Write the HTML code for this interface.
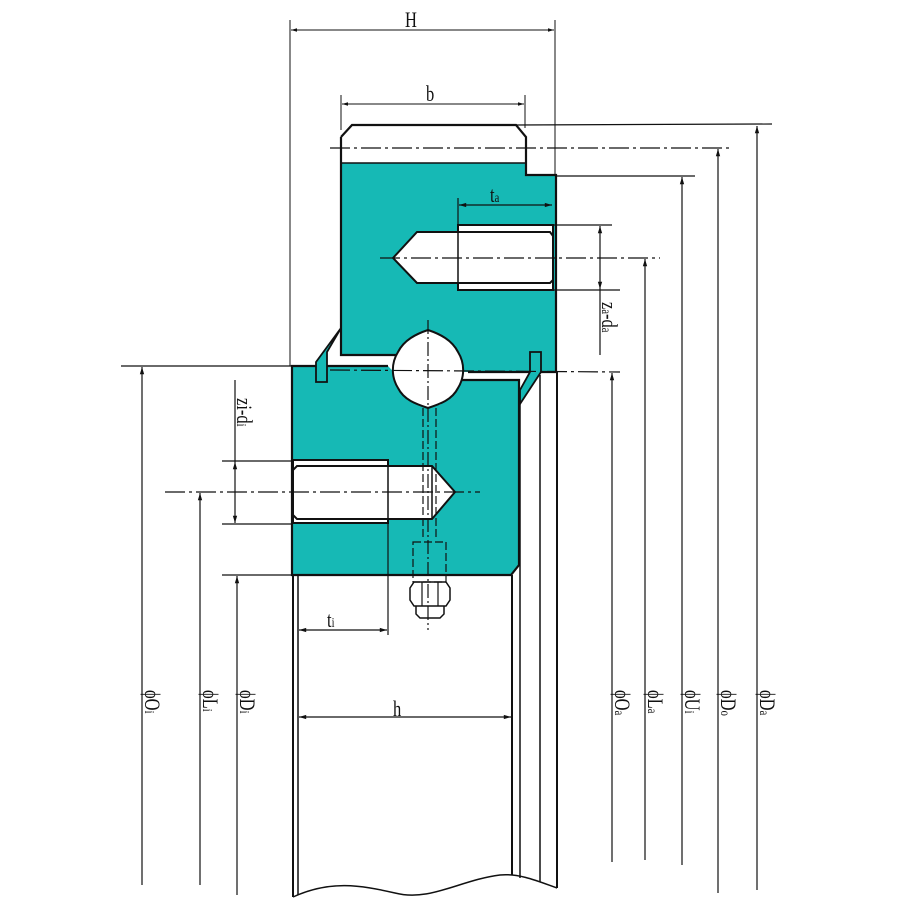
<!DOCTYPE html>
<html><head><meta charset="utf-8"><style>
html,body{margin:0;padding:0;background:#fff;}
svg{display:block}
text{font-family:"Liberation Serif",serif;fill:#111}
</style></head><body>
<svg width="900" height="900" viewBox="0 0 900 900" xmlns="http://www.w3.org/2000/svg">
<defs>
<marker id="a" viewBox="0 0 10 10" refX="10" refY="5" markerWidth="8" markerHeight="6" orient="auto-start-reverse"><path d="M0,2 L10,5 L0,8z" fill="#111"/></marker>
</defs>
<g stroke="#111" stroke-width="1" fill="none">
<line x1="290" y1="20" x2="290" y2="366"/>
<line x1="555" y1="20" x2="555" y2="175"/>
<line x1="291" y1="30" x2="554" y2="30" marker-start="url(#a)" marker-end="url(#a)"/>
<line x1="341" y1="95" x2="341" y2="130"/>
<line x1="525" y1="95" x2="525" y2="128"/>
<line x1="342" y1="104" x2="524" y2="104" marker-start="url(#a)" marker-end="url(#a)"/>
</g>
<path d="M341,163 L526,163 L526,176 L556,176 L556,372 L470,372 L462,372 L395,355 L341,355 Z" fill="#16b9b5"/>
<path d="M341,137 L352,125 L516,125 L526,137 L526,175 L556,175 L556,372 L468,372 M341,137 L341,355 L397,355" fill="none" stroke="#111" stroke-width="2.2"/>
<line x1="341" y1="163" x2="526" y2="163" stroke="#111" stroke-width="1.5"/>
<path d="M292,366 L388,366 L420,400 L440,405 L462,380 L519,380 L519,565 L511,575 L292,575 Z" fill="#16b9b5"/>
<path d="M388,366 L292,366 L292,575 L511,575 L519,565 L519,380 L462,380" fill="none" stroke="#111" stroke-width="2.2"/>
<path d="M428,330 C440,334 452,340 458,352 A34,34 0 0 1 458,388 C452,400 440,404 428,408 C416,404 404,400 398,388 A34,34 0 0 1 398,352 C404,340 416,334 428,330Z" fill="#fff" stroke="#111" stroke-width="2"/>
<path d="M341,328 L327,352 L327,382 L316,382 L316,362 Z" fill="#16b9b5" stroke="#111" stroke-width="1.8"/>
<path d="M530,352 L541,352 L541,372 L520,404 L520,390 L530,372 Z" fill="#16b9b5" stroke="#111" stroke-width="1.8"/>
<path d="M458,225 L553,225 L553,290 L458,290 Z" fill="#fff" stroke="#111" stroke-width="2"/>
<path d="M417,232 L550,232 L553,236 L553,280 L550,283 L417,283 L393,258 Z" fill="#fff" stroke="#111" stroke-width="2"/>
<line x1="458" y1="232" x2="458" y2="283" stroke="#111" stroke-width="1.5"/>
<path d="M293,460 L388,460 L388,523 L293,523 Z" fill="#fff" stroke="#111" stroke-width="2"/>
<path d="M297,466 L432,466 L455,492 L432,519 L297,519 L293,515 L293,470 Z" fill="#fff" stroke="#111" stroke-width="2"/>
<line x1="388" y1="466" x2="388" y2="519" stroke="#111" stroke-width="1.5"/>
<line x1="432" y1="466" x2="432" y2="519" stroke="#111" stroke-width="1.5"/>
<g stroke="#111" stroke-width="1.2" fill="none">
<line x1="423" y1="408" x2="423" y2="540" stroke-dasharray="8,3"/>
<line x1="436" y1="408" x2="436" y2="540" stroke-dasharray="8,3"/>
<rect x="413" y="542" width="33" height="40" stroke-dasharray="8,3"/>
<path d="M410,588 L414,582 L446,582 L450,588 L450,600 L446,606 L414,606 L410,600Z" stroke-width="1.5"/>
<line x1="422" y1="582" x2="422" y2="606"/><line x1="438" y1="582" x2="438" y2="606"/>
<path d="M416,606 L416,614 L420,618 L440,618 L444,614 L444,606" stroke-width="1.5"/>
<line x1="428" y1="320" x2="428" y2="630" stroke-dasharray="14,3,2,3"/>
<line x1="330" y1="148" x2="730" y2="148" stroke-dasharray="20,4,3,4"/>
<line x1="380" y1="258" x2="660" y2="258" stroke-dasharray="20,4,3,4"/>
<line x1="165" y1="492" x2="480" y2="492" stroke-dasharray="20,4,3,4"/>
<line x1="330" y1="370" x2="620" y2="372" stroke-dasharray="20,4,3,4"/>
<line x1="293" y1="575" x2="293" y2="897" stroke-width="2"/>
<line x1="298" y1="575" x2="298" y2="895" stroke-width="1.5"/>
<line x1="512" y1="575" x2="512" y2="875" stroke-width="2"/>
<line x1="520" y1="400" x2="520" y2="878" stroke-width="1.5"/>
<line x1="540" y1="375" x2="540" y2="882" stroke-width="1.5"/>
<line x1="557" y1="372" x2="557" y2="888" stroke-width="2"/>
<path d="M293,897 C330,880 360,885 395,893 C430,902 460,880 500,875 C520,873 540,882 557,888" stroke-width="1.5"/>
<line x1="458" y1="198" x2="458" y2="226"/>
<line x1="459" y1="205" x2="552" y2="205" marker-start="url(#a)" marker-end="url(#a)"/>
<line x1="553" y1="225" x2="612" y2="225"/>
<line x1="553" y1="290" x2="620" y2="290"/>
<line x1="600" y1="226" x2="600" y2="289" marker-start="url(#a)" marker-end="url(#a)"/>
<line x1="600" y1="289" x2="600" y2="355"/>
<line x1="516" y1="125" x2="772" y2="124"/>
<line x1="555" y1="176" x2="695" y2="176"/>
<line x1="757" y1="890" x2="757" y2="126" marker-end="url(#a)"/>
<line x1="718" y1="893" x2="718" y2="149" marker-end="url(#a)"/>
<line x1="682" y1="865" x2="682" y2="177" marker-end="url(#a)"/>
<line x1="645" y1="860" x2="645" y2="259" marker-end="url(#a)"/>
<line x1="612" y1="862" x2="612" y2="373" marker-end="url(#a)"/>
<line x1="121" y1="366" x2="292" y2="366"/>
<line x1="142" y1="885" x2="142" y2="367" marker-end="url(#a)"/>
<line x1="200" y1="885" x2="200" y2="493" marker-end="url(#a)"/>
<line x1="222" y1="575" x2="292" y2="575"/>
<line x1="237" y1="895" x2="237" y2="576" marker-end="url(#a)"/>
<line x1="222" y1="461" x2="293" y2="461"/>
<line x1="222" y1="524" x2="293" y2="524"/>
<line x1="235" y1="380" x2="235" y2="462"/>
<line x1="235" y1="462" x2="235" y2="523" marker-start="url(#a)" marker-end="url(#a)"/>
<line x1="388" y1="523" x2="388" y2="635"/>
<line x1="299" y1="630" x2="387" y2="630" marker-start="url(#a)" marker-end="url(#a)"/>
<line x1="299" y1="717" x2="511" y2="717" marker-start="url(#a)" marker-end="url(#a)"/>
</g>
<g font-size="22">
<text transform="translate(405,27) scale(0.75,1)">H</text>
<text transform="translate(426,101) scale(0.75,1)">b</text>
<text transform="translate(490,202) scale(0.75,1)">t<tspan font-size="14">a</tspan></text>
<text transform="translate(327,627) scale(0.75,1)">t<tspan font-size="14">i</tspan></text>
<text transform="translate(393,716) scale(0.75,1)">h</text>
<text transform="translate(602,302) rotate(90) scale(0.75,1)">z<tspan font-size="14">a</tspan>-d<tspan font-size="14">a</tspan></text>
<text transform="translate(237,398) rotate(90) scale(0.75,1)">zi-d<tspan font-size="14">i</tspan></text>
<text transform="translate(145,690) rotate(90) scale(0.75,1)">ϕO<tspan font-size="14">i</tspan></text>
<text transform="translate(203,690) rotate(90) scale(0.75,1)">ϕL<tspan font-size="14">i</tspan></text>
<text transform="translate(240,690) rotate(90) scale(0.75,1)">ϕD<tspan font-size="14">i</tspan></text>
<text transform="translate(615,690) rotate(90) scale(0.75,1)">ϕO<tspan font-size="14">a</tspan></text>
<text transform="translate(648,690) rotate(90) scale(0.75,1)">ϕL<tspan font-size="14">a</tspan></text>
<text transform="translate(685,690) rotate(90) scale(0.75,1)">ϕU<tspan font-size="14">i</tspan></text>
<text transform="translate(721,690) rotate(90) scale(0.75,1)">ϕD<tspan font-size="14">o</tspan></text>
<text transform="translate(760,690) rotate(90) scale(0.75,1)">ϕD<tspan font-size="14">a</tspan></text>
</g>
</svg>
</body></html>
